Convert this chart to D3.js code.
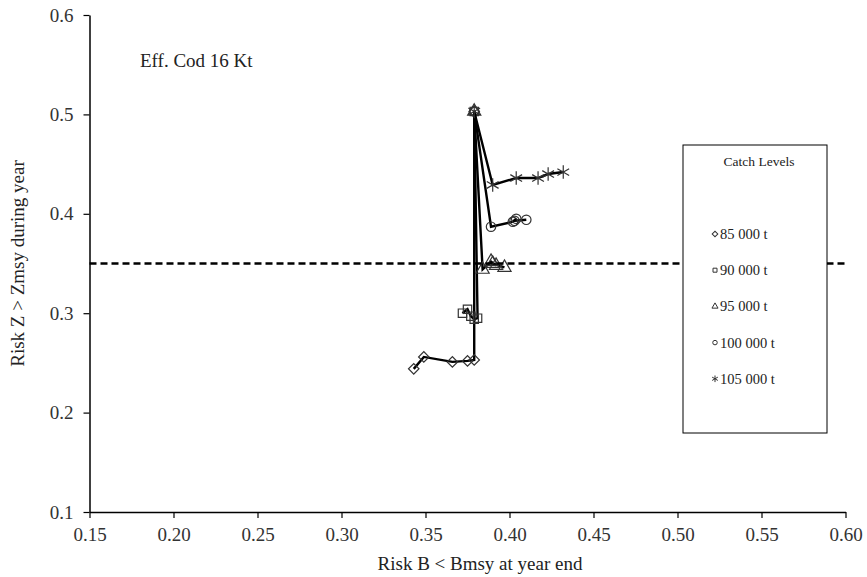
<!DOCTYPE html>
<style>
body { margin: 0; background: #fff; }
svg text { font-family: "Liberation Serif", "Times New Roman", serif; fill: #222; }
.axis .domain { stroke: #000; stroke-width: 1.5; }
.axis line { stroke: #000; stroke-width: 1.2; }
.axis text { font-size: 19px; font-family: "Liberation Serif", serif; fill: #333; }
</style>
<svg width="867" height="577"></svg>
<script src="https://d3js.org/d3.v7.min.js"></script>
<script>
// values: risk B < Bmsy (x) and risk Z > Zmsy (y), year by year
var catchLevels = ["85 000 t", "90 000 t", "95 000 t", "100 000 t", "105 000 t"];
var x85 = [0.379, 0.379, 0.375, 0.366, 0.349, 0.343];
var y85 = [0.503, 0.253, 0.252, 0.251, 0.256, 0.244];
var x90 = [0.379, 0.381, 0.379, 0.377, 0.375, 0.372];
var y90 = [0.503, 0.295, 0.294, 0.297, 0.304, 0.300];
var x95 = [0.379, 0.384, 0.389, 0.392, 0.390, 0.397];
var y95 = [0.503, 0.344, 0.352, 0.348, 0.350, 0.346];
var x100 = [0.379, 0.389, 0.402, 0.404, 0.403, 0.410];
var y100 = [0.503, 0.387, 0.392, 0.395, 0.393, 0.394];
var x105 = [0.379, 0.390, 0.404, 0.417, 0.423, 0.432];
var y105 = [0.503, 0.429, 0.436, 0.436, 0.440, 0.442];
var xTicks = [0.15, 0.20, 0.25, 0.30, 0.35, 0.40, 0.45, 0.50, 0.55, 0.60];
var yTicks = [0.1, 0.2, 0.3, 0.4, 0.5, 0.6];
var zLimit = 0.35;

// diamond = square turned 45 degrees, like the spreadsheet marker
var series = [
  {name: catchLevels[0], xs: x85, ys: y85, sym: d3.symbolSquare, rot: 45, size: 55},
  {name: catchLevels[1], xs: x90, ys: y90, sym: d3.symbolSquare, rot: 0, size: 70},
  {name: catchLevels[2], xs: x95, ys: y95, sym: d3.symbolTriangle, rot: 0, size: 75},
  {name: catchLevels[3], xs: x100, ys: y100, sym: d3.symbolCircle, rot: 0, size: 70},
  {name: catchLevels[4], xs: x105, ys: y105, sym: d3.symbolAsterisk, rot: 0, size: 130}
];

var svg = d3.select("svg"),
    margin = {top: 15, right: 21.5, bottom: 65, left: 89.5},
    width = +svg.attr("width") - margin.left - margin.right,
    height = +svg.attr("height") - margin.top - margin.bottom,
    g = svg.append("g").attr("transform", "translate(" + margin.left + "," + margin.top + ")");

var x = d3.scaleLinear().domain([0.15, 0.60]).range([0, width]);
var y = d3.scaleLinear().domain([0.1, 0.6]).range([height, 0]);

g.append("g")
    .attr("class", "axis")
    .attr("transform", "translate(0," + height + ")")
    .call(d3.axisBottom(x).tickValues(xTicks).tickFormat(d3.format(".2f")).tickSize(6).tickSizeOuter(0).tickPadding(10));

g.append("g")
    .attr("class", "axis")
    .call(d3.axisLeft(y).tickValues(yTicks).tickFormat(d3.format(".1f")).tickSize(6).tickSizeOuter(0).tickPadding(10));

svg.append("text")
    .attr("x", 480)
    .attr("y", 570)
    .attr("text-anchor", "middle")
    .style("font-size", "19px")
    .text("Risk B < Bmsy at year end");

svg.append("text")
    .attr("transform", "translate(24," + (margin.top + height / 2) + ") rotate(-90)")
    .attr("text-anchor", "middle")
    .style("font-size", "19px")
    .text("Risk Z > Zmsy during year");

svg.append("text")
    .attr("x", 140)
    .attr("y", 67)
    .style("font-size", "19px")
    .text("Eff. Cod 16 Kt");

// legend box
var lg = svg.append("g").attr("transform", "translate(683,145)");
lg.append("rect")
    .attr("width", 144).attr("height", 288)
    .attr("fill", "#fff").attr("stroke", "#000").attr("stroke-width", 1);
lg.append("text")
    .attr("x", 76).attr("y", 21)
    .attr("text-anchor", "middle")
    .style("font-size", "13.5px")
    .text("Catch Levels");
var items = lg.selectAll("g.item")
    .data(series)
    .enter().append("g")
    .attr("class", "item")
    .attr("transform", function(d, i) { return "translate(32," + (89 + i * 36.2) + ")"; });
items.append("path")
    .attr("d", function(d) { return d3.symbol().type(d.sym).size(d.sym === d3.symbolAsterisk ? 30 : 16)(); })
    .attr("transform", function(d) { return "rotate(" + d.rot + ")"; })
    .attr("fill", "none")
    .attr("stroke", "#333")
    .attr("stroke-width", 1);
items.append("text")
    .attr("x", 5).attr("y", 5)
    .style("font-size", "14.5px")
    .text(function(d) { return d.name; });

var line = d3.line()
    .x(function(d) { return x(d[0]); })
    .y(function(d) { return y(d[1]); });

series.forEach(function(s) {
  var pts = s.xs.map(function(v, i) { return [v, s.ys[i]]; });
  g.append("path")
      .attr("d", line(pts))
      .attr("fill", "none")
      .attr("stroke", "#000")
      .attr("stroke-width", 2.4);
  g.selectAll(null)
      .data(pts)
      .enter().append("path")
      .attr("transform", function(d) { return "translate(" + x(d[0]) + "," + y(d[1]) + ") rotate(" + s.rot + ")"; })
      .attr("d", d3.symbol().type(s.sym).size(s.size))
      .attr("fill", "none")
      .attr("stroke", "#333")
      .attr("stroke-width", 1.2);
});

// Zmsy risk reference line
g.append("line")
    .attr("x1", 0).attr("x2", width)
    .attr("y1", y(zLimit)).attr("y2", y(zLimit))
    .attr("stroke", "#000")
    .attr("stroke-width", 2.5)
    .attr("stroke-dasharray", "7,4");
</script>
